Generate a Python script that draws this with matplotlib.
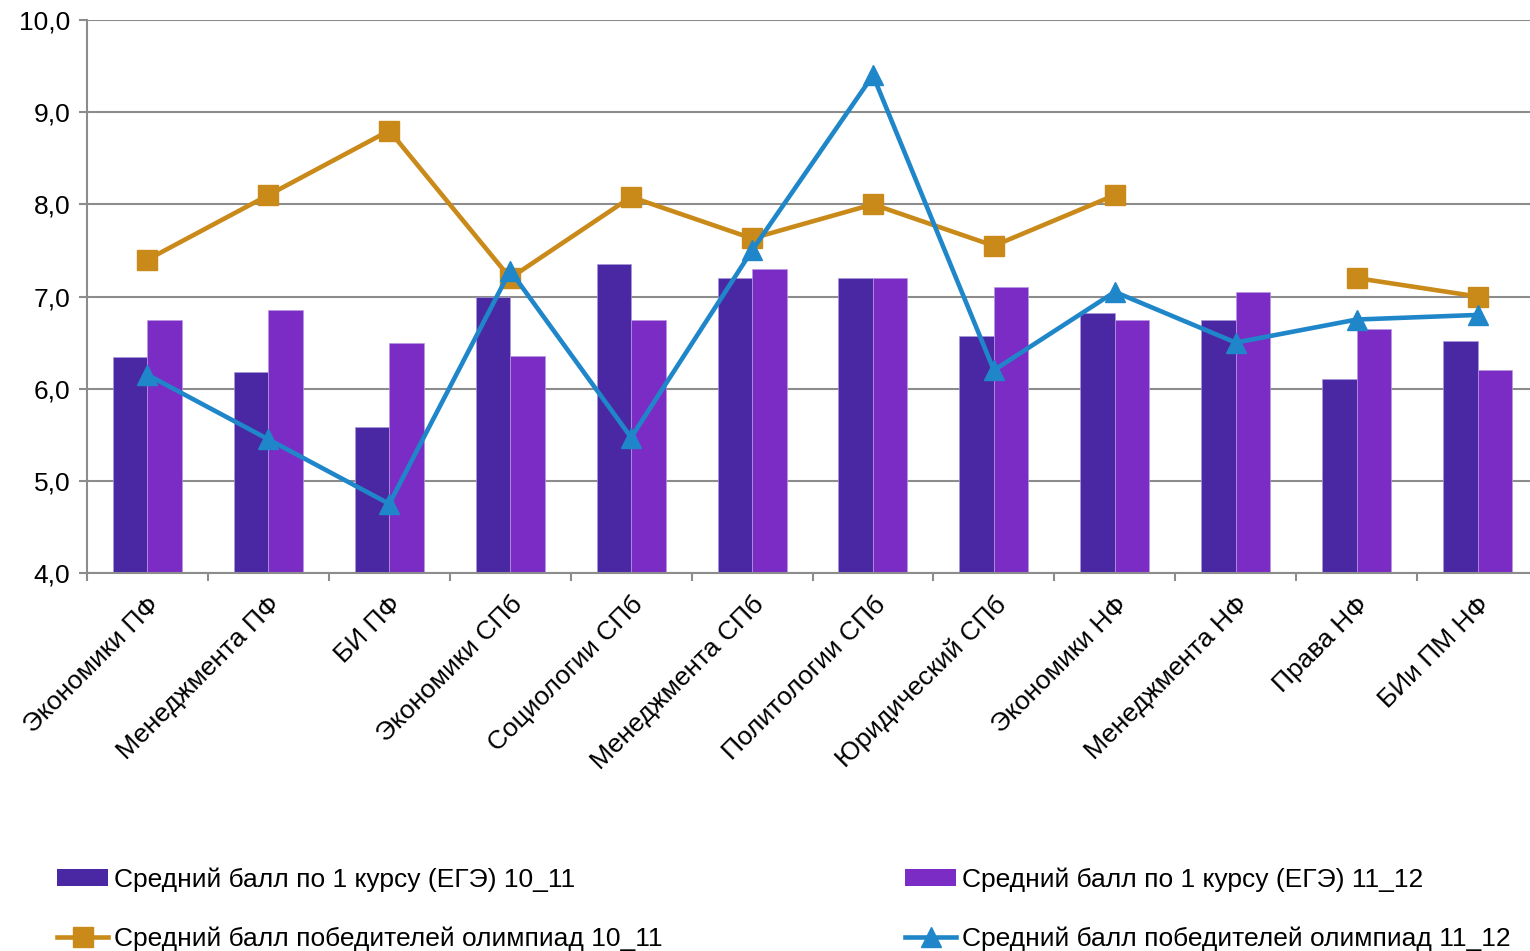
import numpy as np
import matplotlib
matplotlib.use("Agg")
import matplotlib.pyplot as plt
from matplotlib.ticker import FuncFormatter, MultipleLocator, FixedLocator
from matplotlib.lines import Line2D
from matplotlib.patches import Patch

plt.rcParams['font.family'] = ['Liberation Sans', 'DejaVu Sans']

categories = ["Экономики ПФ", "Менеджмента ПФ", "БИ ПФ", "Экономики СПб",
              "Социологии СПб", "Менеджмента СПб", "Политологии СПб",
              "Юридический СПб", "Экономики НФ", "Менеджмента НФ",
              "Права НФ", "БИи ПМ НФ"]
ege_10_11 = [6.34, 6.18, 5.58, 7.0, 7.35, 7.2, 7.2, 6.57, 6.82, 6.75, 6.1, 6.52]
ege_11_12 = [6.75, 6.85, 6.5, 6.35, 6.75, 7.3, 7.2, 7.1, 6.75, 7.05, 6.65, 6.2]
olymp_10_11 = [7.4, 8.1, 8.8, 7.2, 8.08, 7.63, 8.0, 7.55, 8.1, np.nan, 7.2, 7.0]
olymp_11_12 = [6.15, 5.45, 4.75, 7.28, 5.47, 7.5, 9.4, 6.2, 7.05, 6.5, 6.75, 6.8]
labels = ["Средний балл по 1 курсу (ЕГЭ) 10_11",
          "Средний балл по 1 курсу (ЕГЭ) 11_12",
          "Средний балл победителей олимпиад 10_11",
          "Средний балл победителей олимпиад 11_12"]

c_dark = "#4A28A4"
c_light = "#7B2CC4"
c_gold = "#C98A1A"
c_blue = "#1F87C9"
c_grid = "#8C8C8C"

fig = plt.figure(figsize=(15.3, 9.51), dpi=100)
ax = fig.add_axes([87/1530, 1 - 573/951, 1451/1530, (573-20)/951])

x = np.arange(len(categories))
w = 0.285
ax.bar(x - w/2, ege_10_11, width=w, color=c_dark, edgecolor="#A898D8", linewidth=0.5, zorder=2)
ax.bar(x + w/2, ege_11_12, width=w, color=c_light, edgecolor="#B898E0", linewidth=0.5, zorder=2)
ax.plot(x, olymp_10_11, color=c_gold, lw=3.3, marker='s', ms=14, zorder=3)
ax.plot(x, olymp_11_12, color=c_blue, lw=3.3, marker='^', ms=15, zorder=4)

ax.set_xlim(-0.5, len(categories) - 0.5)
ax.set_ylim(4.0, 10.0)
ax.yaxis.set_major_locator(MultipleLocator(1.0))
ax.yaxis.set_major_formatter(FuncFormatter(lambda v, p: f"{v:.1f}".replace('.', ',')))
ax.grid(axis='y', color=c_grid, lw=1.5, zorder=0)
ax.set_axisbelow(True)

for s in ['top', 'right']:
    ax.spines[s].set_visible(False)
for s in ['left', 'bottom']:
    ax.spines[s].set_color(c_grid)
    ax.spines[s].set_linewidth(1.5)

ax.set_xticks(x)
ax.set_xticklabels(categories, rotation=45, ha='right', rotation_mode='anchor', fontsize=19)
ax.tick_params(axis='x', which='major', length=0, pad=14)
ax.xaxis.set_minor_locator(FixedLocator(np.arange(-0.5, len(categories), 1.0)))
ax.tick_params(axis='x', which='minor', length=6, color=c_grid, width=1.5)
ax.tick_params(axis='y', length=6, color=c_grid, width=1.5, labelsize=19, pad=6)

h1 = Patch(facecolor=c_dark)
h2 = Patch(facecolor=c_light)
h3 = Line2D([], [], color=c_gold, lw=3.3, marker='s', ms=14)
h4 = Line2D([], [], color=c_blue, lw=3.3, marker='^', ms=15)

common = dict(loc='upper left', frameon=False, fontsize=19, handlelength=1.95,
              handletextpad=0.2, labelspacing=1.33, handleheight=0.6,
              borderpad=0, borderaxespad=0)
fig.legend([h1, h3], [labels[0], labels[2]],
           bbox_to_anchor=(57/1530, 1 - 867/951), **common)
fig.legend([h2, h4], [labels[1], labels[3]],
           bbox_to_anchor=(905/1530, 1 - 867/951), **common)

fig.savefig("out.png", dpi=100)
